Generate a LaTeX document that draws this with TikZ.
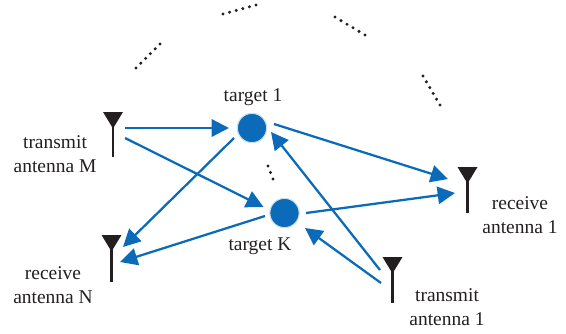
\documentclass[tikz,border=0pt]{standalone}
\usepackage{fontspec}
\setmainfont{Liberation Serif}
\usetikzlibrary{arrows.meta}
\definecolor{bluefill}{HTML}{0B6BB8}
\definecolor{antblack}{HTML}{231F20}
\tikzset{
  px/.style={x=0.75pt,y=-0.75pt},
  target/.style={circle,fill=bluefill,draw=bluefill!22,line width=0.8pt,minimum size=22pt,inner sep=0pt},
  anchorpt/.style={inner sep=0pt,minimum size=0pt},
  link/.style={draw=bluefill,line width=1.7pt,-{Triangle[length=13pt,width=13pt]}},
  lab/.style={align=center,font=\fontsize{14.6}{17.5}\selectfont,text=antblack,inner sep=0pt},
  mast/.style={draw=antblack,line width=1.7pt},
  horn/.style={fill=antblack},
  dotmark/.style={fill=antblack}
}
\newcommand{\antenna}[2]{% name, top-centre at (name)
  \draw[mast] ([shift={(0,14)}]#1.center) -- ([shift={(0,#2)}]#1.center);
  \fill[horn] ([shift={(-10,0)}]#1.center) -- ([shift={(10,0)}]#1.center) -- ([shift={(0,16.5)}]#1.center) -- cycle;
}
\newcommand{\dotrow}[5]{%
  \foreach \i in {0,...,#5}{
    \fill[dotmark] ({#1+(#3-#1)*\i/#5},{#2+(#4-#2)*\i/#5}) circle (1.25pt);
  }
}
\begin{document}
\begin{tikzpicture}[px]
\useasboundingbox (0,0) rectangle (566,333);
\node[anchorpt] (tm) at (113,112) {};
\node[anchorpt] (rn) at (111.5,235) {};
\node[anchorpt] (ro) at (467.5,167) {};
\node[anchorpt] (to) at (392.5,257) {};
\node[target] (t1) at (252,128) {};
\node[target] (tk) at (284.5,213) {};
\antenna{tm}{45}
\antenna{rn}{47}
\antenna{ro}{46}
\antenna{to}{46}
\draw[link] ([shift={(12,16)}]tm.center) -- ([shift={(-23,0)}]t1.center);
\draw[link] ([shift={(12,26)}]tm.center) -- ([shift={(-21,-6)}]tk.center);
\draw[link] ([shift={(-18,10)}]t1.center) -- ([shift={(11.5,12)}]rn.center);
\draw[link] ([shift={(-19.5,3)}]tk.center) -- ([shift={(8.5,27)}]rn.center);
\draw[link] ([shift={(22,-4)}]t1.center) -- ([shift={(-19.5,12)}]ro.center);
\draw[link] ([shift={(21.5,0)}]tk.center) -- ([shift={(-12.5,26)}]ro.center);
\draw[link] ([shift={(-12.5,13)}]to.center) -- ([shift={(19,4)}]t1.center);
\draw[link] ([shift={(-11.5,26)}]to.center) -- ([shift={(20.5,15)}]tk.center);
\dotrow{136}{68}{160}{44}{5}
\dotrow{223}{14}{256}{5}{5}
\dotrow{335}{17}{365}{35}{5}
\dotrow{423}{76}{440}{105}{5}
\dotrow{268}{166}{273}{179}{2}
\node[lab] (l1) at (253,97) {target 1};
\node[lab] (lk) at (260,246) {target K};
\node[lab] (lm) at (55,154) {transmit\\antenna M};
\node[lab] (ln) at (53,285) {receive\\antenna N};
\node[lab] (lo) at (520,215) {receive\\antenna 1};
\node[lab] (lt) at (447,307) {transmit\\antenna 1};
\end{tikzpicture}
\end{document}
